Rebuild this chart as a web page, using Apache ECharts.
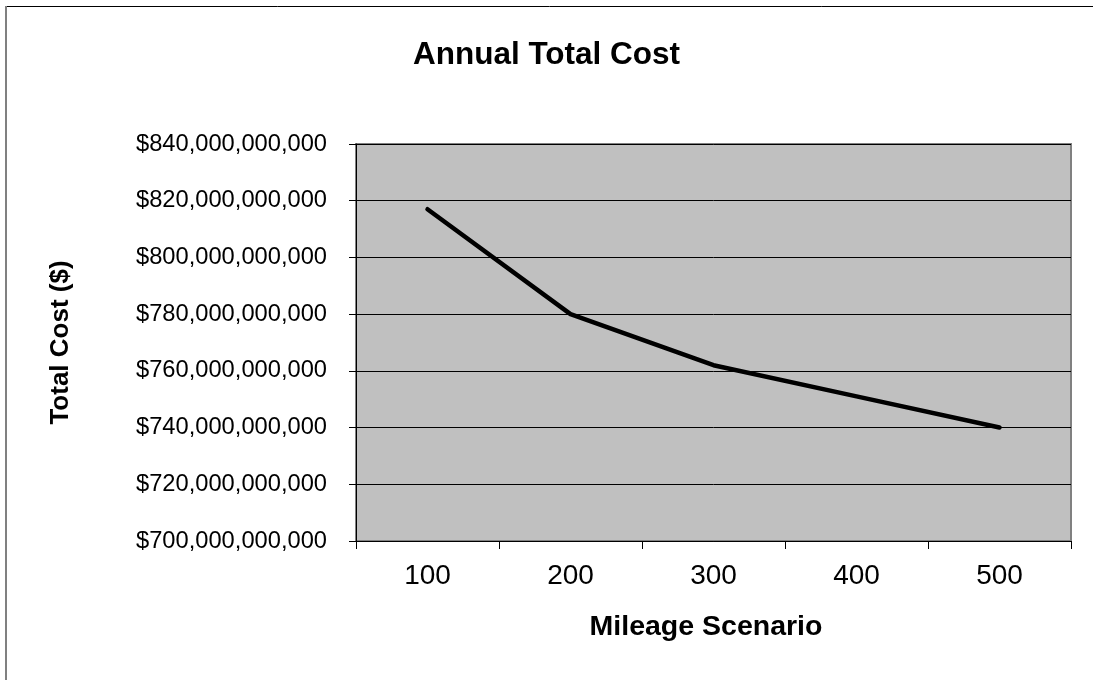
<!DOCTYPE html>
<html>
<head>
<meta charset="utf-8">
<title>Annual Total Cost</title>
<script src="https://cdn.jsdelivr.net/npm/echarts@6/dist/echarts.min.js"></script>
<style>
  html, body { margin: 0; padding: 0; background: #ffffff; }
  #chart { width: 1093px; height: 680px; }
</style>
</head>
<body>
<div id="chart"></div>
<script>
// Mileage scenarios on the category axis
const scenarios = ['100', '200', '300', '400', '500'];
// Annual total cost for each scenario, in dollars
const totalCost = [817e9, 780e9, 762e9, 751e9, 740e9];
// Value axis range and step
const yMin = 700e9;
const yMax = 840e9;
const yStep = 20e9;

const FONT = '"Liberation Sans", Arial, sans-serif';

function dollars(v) {
  return '$' + Math.round(v).toLocaleString('en-US');
}

const chart = echarts.init(document.getElementById('chart'), null, { renderer: 'canvas' });

chart.setOption({
  backgroundColor: '#ffffff',
  animation: false,
  title: {
    text: 'Annual Total Cost',
    left: 'center',
    top: 34,
    textStyle: { fontFamily: FONT, fontSize: 31.5, fontWeight: 'bold', color: '#000' }
  },
  graphic: [
    // outer chart frame
    { type: 'line', shape: { x1: 6, y1: 6.5, x2: 1093, y2: 6.5 }, style: { stroke: '#000', lineWidth: 1 }, silent: true },
    { type: 'line', shape: { x1: 6, y1: 6, x2: 6, y2: 680 }, style: { stroke: '#808080', lineWidth: 2 }, silent: true }
  ],
  grid: {
    left: 356,
    top: 144,
    right: 22,
    bottom: 139,
    show: true,
    backgroundColor: '#C0C0C0',
    borderColor: '#808080',
    borderWidth: 2
  },
  xAxis: {
    type: 'category',
    data: scenarios,
    boundaryGap: true,
    name: 'Mileage Scenario',
    nameLocation: 'middle',
    nameGap: 72,
    nameTextStyle: { fontFamily: FONT, fontSize: 28.5, fontWeight: 'bold', color: '#000', padding: [0, 15, 0, 0] },
    axisLine: { show: true, lineStyle: { color: '#000', width: 1 } },
    axisTick: { show: true, length: 8, lineStyle: { color: '#000', width: 1 } },
    axisLabel: { fontFamily: FONT, fontSize: 28, color: '#000', margin: 21 },
    splitLine: { show: false }
  },
  yAxis: {
    type: 'value',
    min: yMin,
    max: yMax,
    interval: yStep,
    name: 'Total Cost ($)',
    nameLocation: 'middle',
    nameGap: 282,
    nameTextStyle: { fontFamily: FONT, fontSize: 26, fontWeight: 'bold', color: '#000' },
    axisLine: { show: true, lineStyle: { color: '#000', width: 1 } },
    axisTick: { show: true, length: 7, lineStyle: { color: '#000', width: 1 } },
    axisLabel: { fontFamily: FONT, fontSize: 23.7, color: '#000', margin: 29, formatter: dollars },
    splitLine: { show: true, lineStyle: { color: '#000', width: 1 } }
  },
  series: [{
    type: 'line',
    data: totalCost,
    showSymbol: false,
    symbol: 'none',
    lineStyle: { color: '#000', width: 4.5, cap: 'round', join: 'round' },
    z: 5
  }]
});
</script>
</body>
</html>
